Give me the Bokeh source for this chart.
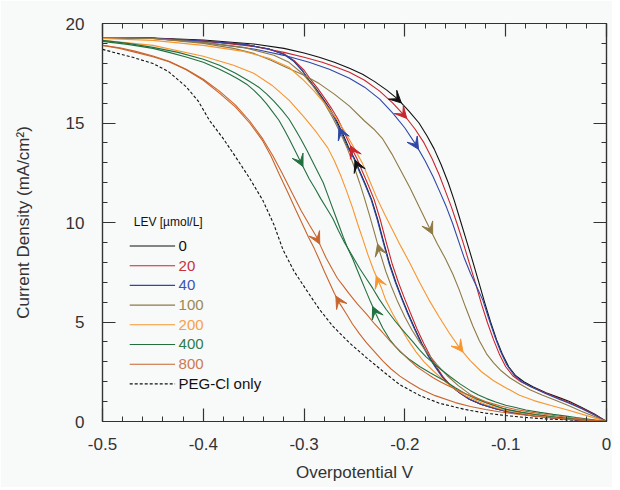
import numpy as np
from bokeh.plotting import figure
from bokeh.models import (Range1d, SingleIntervalTicker, CustomJSTickFormatter, LinearAxis,
                          Arrow, VeeHead, ColumnDataSource)
from bokeh.core.properties import value
from bokeh.embed import file_html
from bokeh.resources import INLINE

# ---------------- data ----------------
x_ticks = [-0.5, -0.4, -0.3, -0.2, -0.1, 0.0]
x_tick_labels = ["-0.5", "-0.4", "-0.3", "-0.2", "-0.1", "0"]
y_ticks = [0, 5, 10, 15, 20]
y_tick_labels = ["0", "5", "10", "15", "20"]

legend_title = "LEV [\u00b5mol/L]"
legend_labels = ["0", "20", "40", "100", "200", "400", "800", "PEG-Cl only"]

# 0 umol/L (forward = scan towards -0.5 V, reverse = back towards 0 V)
k_f_x = [-0.5, -0.45, -0.4, -0.36, -0.335, -0.32, -0.31, -0.302, -0.295, -0.288, -0.281, -0.275, -0.2685, -0.262, -0.256, -0.25, -0.245, -0.239, -0.233, -0.227, -0.221, -0.215, -0.209, -0.203, -0.197, -0.19, -0.183, -0.176, -0.169, -0.162, -0.155, -0.146, -0.136, -0.124, -0.11, -0.095, -0.075, -0.05, -0.025, 0.0]
k_f_y = [19.3, 19.26, 19.12, 18.95, 18.72, 18.45, 18.1, 17.65, 17.15, 16.7, 16.2, 15.75, 15.2, 14.5, 13.8, 13.2, 12.6, 11.9, 11.15, 10.15, 9.0, 7.9, 7.0, 6.2, 5.45, 4.65, 3.9, 3.25, 2.7, 2.2, 1.82, 1.45, 1.12, 0.86, 0.64, 0.46, 0.3, 0.16, 0.07, 0.0]
k_r_x = [-0.5, -0.45, -0.4, -0.35, -0.32, -0.3, -0.285, -0.27, -0.255, -0.242, -0.23, -0.218, -0.207, -0.196, -0.186, -0.178, -0.171, -0.164, -0.157, -0.151, -0.145, -0.139, -0.133, -0.127, -0.121, -0.115, -0.109, -0.103, -0.097, -0.09, -0.082, -0.073, -0.06, -0.047, -0.0367, -0.025, -0.012, 0.0]
k_r_y = [19.3, 19.27, 19.17, 18.97, 18.75, 18.52, 18.3, 18.05, 17.75, 17.45, 17.08, 16.65, 16.2, 15.6, 15.0, 14.35, 13.7, 12.9, 12.0, 11.1, 10.1, 9.1, 8.1, 7.05, 6.0, 5.0, 4.1, 3.35, 2.75, 2.3, 2.0, 1.75, 1.45, 1.2, 1.0, 0.72, 0.38, 0.0]

# 20 umol/L
r_f_x = [-0.5, -0.45, -0.4, -0.36, -0.335, -0.319, -0.309, -0.3, -0.293, -0.286, -0.279, -0.273, -0.2665, -0.26, -0.2535, -0.2475, -0.2425, -0.2365, -0.2305, -0.2245, -0.2185, -0.2125, -0.2065, -0.2005, -0.1945, -0.188, -0.181, -0.1745, -0.168, -0.1615, -0.155, -0.146, -0.136, -0.124, -0.11, -0.095, -0.075, -0.05, -0.025, 0.0]
r_f_y = [19.3, 19.26, 19.12, 18.95, 18.72, 18.45, 18.1, 17.65, 17.15, 16.7, 16.2, 15.75, 15.2, 14.5, 13.8, 13.2, 12.6, 11.9, 11.15, 10.15, 9.0, 7.9, 7.0, 6.2, 5.45, 4.65, 3.9, 3.25, 2.7, 2.2, 1.82, 1.45, 1.12, 0.86, 0.64, 0.46, 0.3, 0.16, 0.07, 0.0]
r_r_x = [-0.5, -0.45, -0.4, -0.35, -0.32, -0.3, -0.282, -0.268, -0.255, -0.24, -0.225, -0.212, -0.2, -0.19, -0.181, -0.173, -0.166, -0.16, -0.154, -0.148, -0.142, -0.136, -0.13, -0.124, -0.118, -0.112, -0.106, -0.1, -0.093, -0.085, -0.075, -0.06, -0.047, -0.037, -0.025, -0.012, 0.0]
r_r_y = [19.3, 19.26, 19.12, 18.85, 18.55, 18.3, 18.05, 17.8, 17.55, 17.15, 16.6, 16.0, 15.35, 14.7, 14.0, 13.2, 12.4, 11.6, 10.8, 9.9, 8.95, 7.95, 6.95, 5.9, 4.95, 4.1, 3.35, 2.75, 2.3, 2.0, 1.75, 1.42, 1.15, 0.95, 0.68, 0.35, 0.0]

# 40 umol/L
b_f_x = [-0.5, -0.45, -0.4, -0.36, -0.335, -0.32, -0.31, -0.302, -0.2955, -0.2885, -0.2815, -0.2755, -0.2695, -0.263, -0.257, -0.2505, -0.2455, -0.2395, -0.2335, -0.2275, -0.2215, -0.2155, -0.2095, -0.2035, -0.1975, -0.1905, -0.1835, -0.1765, -0.1695, -0.1625, -0.155, -0.146, -0.136, -0.124, -0.11, -0.095, -0.075, -0.05, -0.025, 0.0]
b_f_y = [19.3, 19.26, 19.12, 18.95, 18.72, 18.45, 18.1, 17.65, 17.15, 16.7, 16.2, 15.75, 15.2, 14.5, 13.8, 13.2, 12.6, 11.9, 11.15, 10.15, 9.0, 7.9, 7.0, 6.2, 5.45, 4.65, 3.9, 3.25, 2.7, 2.2, 1.82, 1.45, 1.12, 0.86, 0.64, 0.46, 0.3, 0.16, 0.07, 0.0]
b_r_x = [-0.5, -0.45, -0.4, -0.35, -0.32, -0.295, -0.275, -0.255, -0.24, -0.225, -0.212, -0.2, -0.189, -0.18, -0.172, -0.165, -0.159, -0.153, -0.147, -0.141, -0.135, -0.129, -0.1227, -0.117, -0.111, -0.105, -0.099, -0.092, -0.084, -0.075, -0.06, -0.047, -0.037, -0.025, -0.012, 0.0]
b_r_y = [19.3, 19.25, 19.05, 18.72, 18.4, 18.05, 17.7, 17.25, 16.8, 16.2, 15.5, 14.75, 13.9, 13.1, 12.3, 11.5, 10.8, 10.0, 9.1, 8.2, 7.45, 6.8, 6.1, 5.2, 4.3, 3.5, 2.85, 2.35, 2.0, 1.75, 1.4, 1.12, 0.92, 0.65, 0.33, 0.0]

# 100 umol/L
o_f_x = [-0.5, -0.45, -0.4, -0.36, -0.33, -0.315, -0.302, -0.291, -0.281, -0.272, -0.264, -0.257, -0.251, -0.245, -0.24, -0.235, -0.23, -0.2245, -0.219, -0.2135, -0.207, -0.2, -0.193, -0.185, -0.177, -0.168, -0.158, -0.147, -0.135, -0.12, -0.1, -0.075, -0.05, -0.025, 0.0]
o_f_y = [19.3, 19.25, 19.05, 18.8, 18.4, 18.05, 17.5, 16.85, 16.1, 15.3, 14.5, 13.7, 12.9, 12.0, 11.2, 10.35, 9.45, 8.45, 7.55, 6.8, 6.0, 5.25, 4.6, 3.95, 3.4, 2.85, 2.3, 1.8, 1.35, 0.95, 0.6, 0.37, 0.2, 0.08, 0.0]
o_r_x = [-0.5, -0.45, -0.4, -0.37, -0.35, -0.333, -0.318, -0.3, -0.285, -0.27, -0.255, -0.24, -0.231, -0.222, -0.213, -0.204, -0.195, -0.186, -0.176, -0.168, -0.16, -0.1524, -0.146, -0.1395, -0.1326, -0.126, -0.119, -0.112, -0.1045, -0.096, -0.086, -0.076, -0.064, -0.05, -0.0367, -0.025, -0.012, 0.0]
o_r_y = [19.3, 19.25, 19.0, 18.75, 18.5, 18.15, 17.8, 17.4, 16.98, 16.45, 15.85, 15.1, 14.7, 14.2, 13.45, 12.6, 11.75, 10.8, 9.76, 8.95, 8.2, 7.4, 6.6, 5.7, 4.8, 4.05, 3.4, 2.95, 2.55, 2.2, 1.88, 1.6, 1.33, 1.05, 0.78, 0.52, 0.25, 0.0]

# 200 umol/L
a_f_x = [-0.5, -0.45, -0.4, -0.37, -0.35, -0.332, -0.315, -0.3, -0.288, -0.2765, -0.27, -0.264, -0.258, -0.252, -0.247, -0.242, -0.2368, -0.231, -0.2236, -0.219, -0.212, -0.205, -0.197, -0.189, -0.181, -0.172, -0.16, -0.15, -0.14, -0.12, -0.1, -0.07, -0.04, -0.02, 0.0]
a_f_y = [19.15, 18.9, 18.35, 17.9, 17.5, 16.9, 16.15, 15.3, 14.55, 13.75, 13.1, 12.4, 11.6, 10.75, 9.95, 9.2, 8.4, 7.6, 6.75, 6.1, 5.4, 4.79, 4.1, 3.5, 3.0, 2.55, 2.0, 1.62, 1.3, 0.85, 0.55, 0.3, 0.15, 0.07, 0.0]
a_r_x = [-0.5, -0.45, -0.4, -0.36, -0.335, -0.315, -0.3016, -0.29, -0.279, -0.2685, -0.26, -0.251, -0.242, -0.235, -0.228, -0.22, -0.212, -0.204, -0.195, -0.1855, -0.176, -0.166, -0.156, -0.1458, -0.135, -0.124, -0.112, -0.1, -0.0863, -0.072, -0.055, -0.0367, -0.018, 0.0]
a_r_y = [19.25, 19.15, 18.9, 18.6, 18.25, 17.8, 17.2, 16.6, 15.95, 15.25, 14.6, 13.8, 12.96, 12.1, 11.25, 10.4, 9.6, 8.8, 7.95, 7.0, 6.1, 5.25, 4.45, 3.7, 3.05, 2.5, 2.05, 1.7, 1.32, 1.05, 0.8, 0.55, 0.27, 0.0]

# 400 umol/L
g_f_x = [-0.5, -0.475, -0.45, -0.425, -0.4, -0.384, -0.368, -0.356, -0.345, -0.337, -0.33, -0.322, -0.315, -0.309, -0.303, -0.297, -0.292, -0.286, -0.281, -0.277, -0.273, -0.269, -0.265, -0.261, -0.2567, -0.252, -0.248, -0.2435, -0.239, -0.234, -0.2285, -0.222, -0.215, -0.21, -0.205, -0.195, -0.185, -0.175, -0.167, -0.159, -0.15, -0.14, -0.13, -0.12, -0.11, -0.1, -0.085, -0.07, -0.055, -0.04, -0.02, 0.0]
g_f_y = [19.15, 19.0, 18.8, 18.55, 18.2, 17.9, 17.5, 17.15, 16.8, 16.45, 16.1, 15.65, 15.2, 14.7, 14.17, 13.6, 13.1, 12.5, 12.0, 11.45, 10.9, 10.35, 9.8, 9.25, 8.7, 8.2, 7.7, 7.15, 6.6, 6.0, 5.38, 4.7, 4.12, 3.8, 3.52, 3.1, 2.75, 2.45, 2.22, 2.0, 1.7, 1.4, 1.15, 0.95, 0.78, 0.62, 0.47, 0.35, 0.25, 0.17, 0.08, 0.0]
g_r_x = [-0.5, -0.475, -0.45, -0.434, -0.417, -0.4, -0.384, -0.374, -0.365, -0.357, -0.35, -0.343, -0.337, -0.331, -0.325, -0.3195, -0.3145, -0.3095, -0.3046, -0.3, -0.295, -0.289, -0.2835, -0.2775, -0.2715, -0.266, -0.26, -0.2525, -0.245, -0.2385, -0.232, -0.2255, -0.2185, -0.209, -0.199, -0.192, -0.1855, -0.179, -0.172, -0.164, -0.155, -0.145, -0.135, -0.127, -0.119, -0.11, -0.1, -0.09, -0.08, -0.066, -0.053, -0.04, -0.03, -0.015, 0.0]
g_r_y = [19.1, 18.95, 18.75, 18.55, 18.32, 18.05, 17.7, 17.45, 17.2, 16.95, 16.65, 16.3, 15.95, 15.55, 15.14, 14.65, 14.17, 13.67, 13.17, 12.7, 12.2, 11.7, 11.2, 10.7, 10.2, 9.6, 9.0, 8.35, 7.7, 7.2, 6.7, 6.15, 5.63, 5.0, 4.4, 4.0, 3.6, 3.25, 2.95, 2.6, 2.25, 1.88, 1.55, 1.33, 1.15, 0.98, 0.82, 0.7, 0.58, 0.46, 0.36, 0.27, 0.2, 0.1, 0.0]

# 800 umol/L
n_f_x = [-0.5, -0.483, -0.467, -0.45, -0.434, -0.417, -0.4, -0.384, -0.368, -0.354, -0.341, -0.333, -0.325, -0.316, -0.308, -0.3015, -0.296, -0.29, -0.285, -0.28, -0.275, -0.27, -0.265, -0.258, -0.252, -0.245, -0.238, -0.23, -0.222, -0.214, -0.205, -0.195, -0.185, -0.17, -0.15, -0.135, -0.12, -0.105, -0.09, -0.06, -0.03, 0.0]
n_f_y = [18.9, 18.75, 18.55, 18.33, 18.08, 17.68, 17.15, 16.5, 15.8, 15.0, 14.1, 13.35, 12.46, 11.5, 10.6, 9.9, 9.3, 8.7, 8.14, 7.55, 7.0, 6.45, 5.96, 5.4, 4.9, 4.4, 3.95, 3.5, 3.05, 2.65, 2.28, 1.95, 1.65, 1.3, 0.95, 0.75, 0.6, 0.48, 0.38, 0.2, 0.09, 0.0]
n_r_x = [-0.5, -0.483, -0.467, -0.45, -0.434, -0.417, -0.4, -0.384, -0.368, -0.354, -0.341, -0.331, -0.322, -0.312, -0.303, -0.295, -0.288, -0.283, -0.278, -0.272, -0.267, -0.261, -0.255, -0.247, -0.238, -0.23, -0.222, -0.214, -0.205, -0.197, -0.189, -0.18, -0.172, -0.164, -0.156, -0.14, -0.12, -0.105, -0.09, -0.075, -0.06, -0.03, 0.0]
n_r_y = [18.9, 18.78, 18.6, 18.37, 18.1, 17.7, 17.2, 16.6, 15.9, 15.1, 14.2, 13.35, 12.5, 11.5, 10.6, 9.9, 9.31, 8.75, 8.2, 7.65, 7.2, 6.8, 6.4, 5.9, 5.4, 4.9, 4.46, 4.0, 3.55, 3.15, 2.78, 2.47, 2.2, 1.97, 1.77, 1.4, 1.0, 0.78, 0.6, 0.47, 0.35, 0.15, 0.0]

# PEG-Cl only
peg_x = [-0.5, -0.485, -0.47, -0.45, -0.435, -0.417, -0.405, -0.394, -0.38, -0.368, -0.355, -0.341, -0.33, -0.321, -0.31, -0.298, -0.285, -0.2715, -0.255, -0.238, -0.22, -0.205, -0.185, -0.166, -0.14, -0.12, -0.1, -0.08, -0.06, -0.03, 0.0]
peg_y = [18.7, 18.5, 18.3, 17.99, 17.6, 16.82, 16.1, 15.14, 14.2, 13.3, 12.3, 11.12, 9.9, 8.64, 7.55, 6.63, 5.65, 4.79, 3.95, 3.2, 2.45, 1.85, 1.3, 0.92, 0.6, 0.42, 0.3, 0.2, 0.13, 0.06, 0.0]

# arrow positions (x on curve)
arrow_fwd_x = [-0.246, -0.2505, -0.262, -0.2236, -0.225, -0.2285, -0.265]
arrow_rev_x = [-0.207, -0.2016, -0.19, -0.176, -0.1458, -0.3046, -0.288]

# ---------------- styles ----------------
colors = ["#111111", "#c9252f", "#2f48a8", "#8d7a45", "#f7962e", "#22703f", "#c8652c"]
label_colors = ["#111111", "#c9303c", "#3a55b0", "#9c8854", "#f7a04a", "#2f7c4c", "#cc7a4f", "#111111"]
curves_f = [(k_f_x, k_f_y), (r_f_x, r_f_y), (b_f_x, b_f_y), (o_f_x, o_f_y), (a_f_x, a_f_y), (g_f_x, g_f_y), (n_f_x, n_f_y)]
curves_r = [(k_r_x, k_r_y), (r_r_x, r_r_y), (b_r_x, b_r_y), (o_r_x, o_r_y), (a_r_x, a_r_y), (g_r_x, g_r_y), (n_r_x, n_r_y)]

FONT = "Liberation Sans"
TXT = "#333333"
BG = "#f8f9f9"

p = figure(width=612, height=487, x_range=Range1d(-0.5, 0.0), y_range=Range1d(0.0, 20.0),
           output_backend="svg", toolbar_location=None,
           min_border_left=102, min_border_right=6, min_border_top=23, min_border_bottom=66,
           x_axis_label="Overpotential V", y_axis_label="Current Density (mA/cm\u00b2)")
p.background_fill_color = BG
p.border_fill_color = BG
p.outline_line_color = TXT
p.outline_line_width = 1.2
p.xgrid.visible = False
p.ygrid.visible = False

fmt_code = """
let best = 0, d = Infinity;
for (let i = 0; i < tvals.length; i++) {
  const e = Math.abs(tvals[i] - tick);
  if (e < d) { d = e; best = i; }
}
return tlabels[best];
"""
xfmt = CustomJSTickFormatter(args=dict(tvals=x_ticks, tlabels=x_tick_labels), code=fmt_code)
yfmt = CustomJSTickFormatter(args=dict(tvals=y_ticks, tlabels=y_tick_labels), code=fmt_code)
blank = CustomJSTickFormatter(code="return ''")


def style_axis(ax):
    ax.axis_line_color = TXT
    ax.axis_line_width = 1.2
    ax.major_tick_line_color = TXT
    ax.minor_tick_line_color = TXT
    ax.major_tick_line_width = 1.2
    ax.major_tick_in = 13
    ax.major_tick_out = 0
    ax.minor_tick_in = 5
    ax.minor_tick_out = 0
    ax.major_label_text_font = FONT
    ax.major_label_text_color = TXT
    ax.major_label_text_font_size = "17px"
    ax.axis_label_text_font = FONT
    ax.axis_label_text_font_size = "17px"
    ax.axis_label_text_font_style = "normal"
    ax.axis_label_text_color = TXT


xa = p.xaxis[0]
xa.ticker = SingleIntervalTicker(interval=0.1, num_minor_ticks=5)
xa.formatter = xfmt
style_axis(xa)
xa.major_label_standoff = 16
xa.axis_label_standoff = 10

ya = p.yaxis[0]
ya.ticker = SingleIntervalTicker(interval=5, num_minor_ticks=5)
ya.formatter = yfmt
style_axis(ya)
ya.major_label_standoff = 18
ya.axis_label_standoff = 30

# mirrored tick marks on the top and right edges
top = LinearAxis(ticker=SingleIntervalTicker(interval=0.1, num_minor_ticks=5), formatter=blank)
style_axis(top)
top.major_label_standoff = 0
p.add_layout(top, "above")
right = LinearAxis(ticker=SingleIntervalTicker(interval=5, num_minor_ticks=5), formatter=blank)
style_axis(right)
right.major_label_standoff = 0
p.add_layout(right, "right")

# ---------------- curves ----------------
p.line(peg_x, peg_y, line_color="#111111", line_width=1.1, line_dash="3 2")
for (xf, yf), (xr, yr), c in zip(curves_f, curves_r, colors):
    p.line(xf, yf, line_color=c, line_width=1.1)
    p.line(xr, yr, line_color=c, line_width=1.1)

# ---------------- arrows ----------------
D = 0.0035
for i, c in enumerate(colors):
    xs0, ys0, xs1, ys1 = [], [], [], []
    for (cx, cy), ax_, d in ((curves_f[i], arrow_fwd_x[i], -1), (curves_r[i], arrow_rev_x[i], 1)):
        x_end = ax_ + d * D
        x_st = ax_ - d * D
        xs0.append(x_st); ys0.append(float(np.interp(x_st, cx, cy)))
        xs1.append(x_end); ys1.append(float(np.interp(x_end, cx, cy)))
    src = ColumnDataSource(dict(x0=xs0, y0=ys0, x1=xs1, y1=ys1))
    p.add_layout(Arrow(end=VeeHead(size=12, fill_color=c, line_color=c, line_width=1),
                       x_start="x0", y_start="y0", x_end="x1", y_end="y1",
                       line_alpha=0, source=src))

# ---------------- legend (drawn by hand to colour each label) ----------------
LX0, LX1, LTX = -0.473, -0.428, -0.4245
LY0, LDY = 8.82, 0.99
rows_y = [LY0 - i * LDY for i in range(len(legend_labels))]
p.text([-0.469], [10.05], text=[legend_title], text_font=value(FONT), text_font_size="12px",
       text_color="#111111", text_baseline="middle", text_align="left")
for i, lab in enumerate(legend_labels):
    col = colors[i] if i < len(colors) else "#111111"
    dash = "solid" if i < len(colors) else "3 2"
    p.segment([LX0], [rows_y[i]], [LX1], [rows_y[i]], line_color=col, line_width=1.1, line_dash=dash)
    p.text([LTX], [rows_y[i]], text=[lab], text_font=value(FONT), text_font_size="15px",
           text_color=label_colors[i], text_baseline="middle", text_align="left")

open("out.html", "w").write(file_html(p, INLINE))
